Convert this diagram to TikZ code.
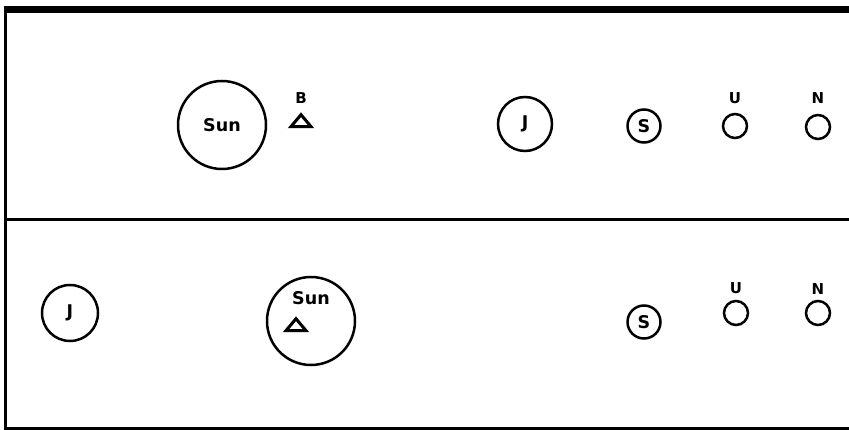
\documentclass[tikz,border=0pt]{standalone}
\usepackage{fontspec}
\setsansfont{DejaVu Sans}
\usetikzlibrary{shapes.geometric}
\begin{document}
\begin{tikzpicture}[x=1pt,y=-1pt,
  body/.style={circle,draw=black,line width=2.5pt,inner sep=0pt,font=\sffamily\bfseries\fontsize{17.5}{17.5}\selectfont},
  lbl/.style={inner sep=0pt,font=\sffamily\bfseries\fontsize{15}{15}\selectfont},
  bary/.style={isosceles triangle,isosceles triangle apex angle=80,shape border rotate=90,draw=black,line width=3pt,inner sep=0pt,minimum height=12pt,minimum width=19pt}]
\useasboundingbox (0,0) rectangle (849,430);
\fill[white] (0,0) rectangle (849,430);
% frame
\coordinate (tl) at (4,9.5);
\coordinate (tr) at (849,9.5);
\coordinate (ml) at (4,219.5);
\coordinate (mr) at (849,219.5);
\coordinate (bl) at (4,428.5);
\coordinate (br) at (849,428.5);
\draw[line width=7pt] (tl) -- (tr);
\draw[line width=3.5pt] (ml) -- (mr);
\draw[line width=3pt] (bl) -- (br);
\draw[line width=3pt] (5.5,6) -- (5.5,430);
% top row
\node[body,minimum size=88pt] (sun1) at (222,125) {Sun};
\node[lbl] (b1) at (301,98) {B};
\node[bary] (bc1) at (301,122) {};
\node[body,minimum size=54pt] (j1) at (525,124) {J};
\node[body,minimum size=33pt] (s1) at (644,126) {S};
\node[body,minimum size=24pt] (u1) at (735,126) {};
\node[lbl] (ul1) at (735,98) {U};
\node[body,minimum size=24pt] (n1) at (818,127) {};
\node[lbl] (nl1) at (818,98) {N};
% bottom row
\node[body,minimum size=56pt] (j2) at (70,313) {J};
\node[body,minimum size=88pt] (sun2) at (311,321) {};
\node[lbl,font=\sffamily\bfseries\fontsize{17.5}{17.5}\selectfont] (st2) at (311,298) {Sun};
\node[bary] (bc2) at (296,326) {};
\node[body,minimum size=33pt] (s2) at (644,322) {S};
\node[body,minimum size=24pt] (u2) at (736,313) {};
\node[lbl] (ul2) at (736,288) {U};
\node[body,minimum size=24pt] (n2) at (818,313) {};
\node[lbl] (nl2) at (818,289) {N};
\end{tikzpicture}
\end{document}
